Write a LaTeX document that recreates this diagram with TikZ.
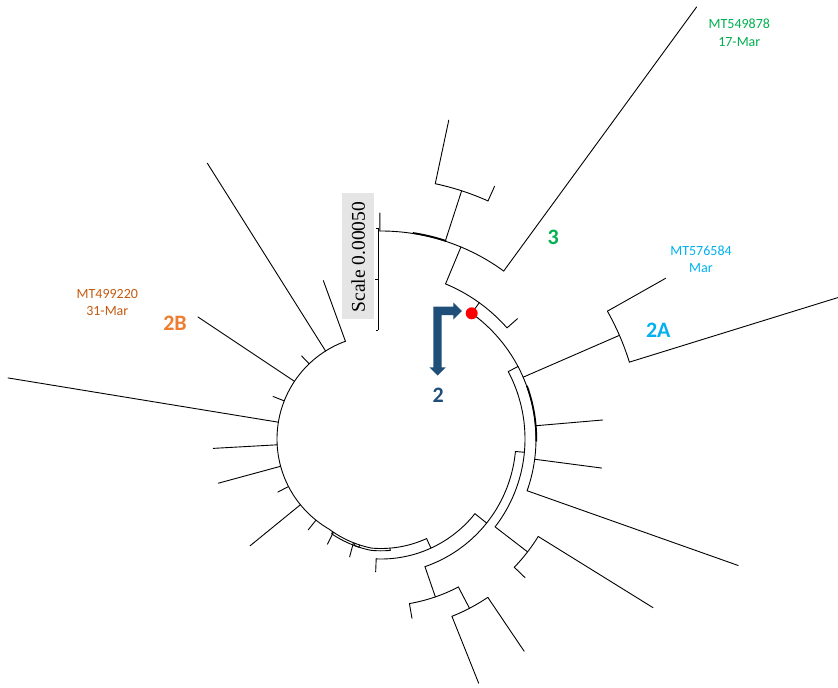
\documentclass[tikz,border=0pt]{standalone}
\usepackage{fontspec}
\setmainfont{Carlito}
\newfontfamily\scalefnt{Liberation Serif}
\definecolor{cgreen}{RGB}{0,176,80}
\definecolor{ccyan}{RGB}{0,176,240}
\definecolor{cbrown}{RGB}{197,90,17}
\definecolor{corange}{RGB}{237,125,49}
\definecolor{cnavy}{RGB}{31,78,121}
\pgfmathdeclarefunction{bbR}{1}{\pgfmathparse{104+5.5*min(max((#1-240)/25,0),1)}}
\tikzset{
  treeline/.style={line width=0.9pt, black, line cap=round},
  thickline/.style={line width=1.7pt, black},
  lab/.style={font=\fontsize{14}{16}\selectfont, inner sep=0pt},
  biglab/.style={font=\fontsize{22}{24}\selectfont\bfseries, inner sep=0pt}
}
% radial segment: angle, r1, r2
\newcommand{\trad}[3]{\draw[treeline] ({381+(#2)*cos(#1)},{439-(#2)*sin(#1)}) -- ({381+(#3)*cos(#1)},{439-(#3)*sin(#1)});}
% arc: radius, a1, a2
\newcommand{\tarc}[3]{\draw[treeline] plot[domain=#2:#3,samples=60,variable=\t] ({381+(#1)*cos(\t)},{439-(#1)*sin(\t)});}
% tip from backbone: angle, r2
\newcommand{\bbtip}[2]{\draw[treeline] ({381+bbR(#1)*cos(#1)},{439-bbR(#1)*sin(#1)}) -- ({381+(#2)*cos(#1)},{439-(#2)*sin(#1)});}
\begin{document}
\begin{tikzpicture}[x=1pt,y=-1pt]
\useasboundingbox (0,0) rectangle (838,688);

% ---- scale box ----
\fill[black!10] (342.3,192.7) rectangle (374,319.3);
\node[rotate=90, font=\scalefnt\fontsize{19.5}{21}\selectfont, inner sep=0pt] (scalelab) at (358.2,257) {Scale 0.00050};
\draw[line width=0.7pt] (378.3,228.3) -- (378.3,330);
\draw[line width=0.7pt] (375.6,228.3) -- (378.3,228.3);
\draw[line width=0.7pt] (375.0,279.3) -- (378.3,279.3);
\draw[line width=0.7pt] (375.6,330) -- (378.3,330);

% ---- backbone ----
\draw[treeline] plot[domain=110:294.6,samples=150,variable=\t] ({381+bbR(\t)*cos(\t)},{439-bbR(\t)*sin(\t)});
% double segments
\draw[treeline] plot[domain=242.5:258.5,samples=20,variable=\t] ({381+(bbR(\t)+2.3)*cos(\t)},{439-(bbR(\t)+2.3)*sin(\t)});
\trad{242.5}{bbR(242.5)}{bbR(242.5)+2.3}
\trad{258.5}{bbR(258.5)}{bbR(258.5)+2.3}
\draw[treeline] plot[domain=256:274.7,samples=20,variable=\t] ({381+(bbR(\t)+2.3)*cos(\t)},{439-(bbR(\t)+2.3)*sin(\t)});
\trad{256}{bbR(256)}{bbR(256)+2.3}
\trad{274.7}{bbR(274.7)}{bbR(274.7)+2.3}

\bbtip{110}{168.5}
\bbtip{122.2}{326}
\bbtip{133.7}{115}
\bbtip{146.3}{220}
\bbtip{158.5}{116}
\bbtip{170.7}{378}
\bbtip{183.2}{168}
\bbtip{195.2}{168.5}
\bbtip{207.2}{116}
\bbtip{219.2}{169}
\bbtip{231.3}{116.5}
\bbtip{243}{118}
\bbtip{255.1}{122}
\bbtip{294.6}{120}

% ---- r=120 ----
\tarc{120}{267.7}{321.5}
\trad{267.7}{120}{133}
\trad{321.5}{120}{135}
% ---- r=135 ----
\tarc{135}{289}{354.7}
\trad{289}{135}{167}
\trad{354.7}{135}{144}
% ---- r=144 ----
\tarc{144}{-37.6}{27.9}
\trad{-37.6}{144}{185}
\trad{27.9}{144}{155}
% ---- r=155 ----
\tarc{155}{-19.5}{54.2}
\draw[thickline] plot[domain=-1:20,samples=30,variable=\t] ({381+155.3*cos(\t)},{439-155.3*sin(\t)});
\trad{54.2}{155}{168}
\trad{23.5}{155}{260}
\trad{4.9}{155}{222.5}
\trad{-7.5}{155}{222.6}
\trad{-19.5}{155}{379}
% ---- clade 3 ----
\tarc{168}{41.4}{67.4}
\trad{41.4}{168}{182}
\trad{67.4}{168}{208}
\tarc{208}{53.85}{90.3}
\draw[thickline] plot[domain=71.8:81.2,samples=20,variable=\t] ({381+208.5*cos(\t)},{439-208.5*sin(\t)});
\trad{90.3}{208}{226}
\trad{72}{208}{261}
\trad{53.85}{208}{535}
\tarc{261}{65.8}{78}
\trad{78}{261}{326}
\trad{65.8}{261}{277}
% ---- clade 2A ----
\tarc{260}{17.2}{29.45}
\trad{29.45}{260}{327}
\trad{17.2}{260}{478}
% ---- lower right ----
\tarc{185}{-43.9}{-31.8}
\trad{-31.8}{185}{320}
\trad{-43.9}{185}{200}
% ---- bottom ----
\tarc{167}{-80.2}{-62.4}
\trad{-80.2}{167}{182}
\trad{-62.4}{167}{191}
\tarc{191}{-68.2}{-56}
\trad{-68.2}{191}{263}
\trad{-56}{191}{256}

% ---- red dot ----
\node[circle, fill=red, inner sep=0pt, minimum size=12pt] (reddot) at (471.7,313.3) {};

% ---- arrow ----
\fill[cnavy] (433.3,306.7) -- (453.3,306.7) -- (453.3,302.5) -- (462,311) -- (453.3,319.5) -- (453.3,315) -- (441.7,315) -- (441.7,367.3) -- (445.7,367.3) -- (437.5,375.5) -- (429.3,367.3) -- (433.3,367.3) -- cycle;

% ---- labels ----
\node[lab, text=cgreen] (t549a) at (739.3,24) {MT549878};
\node[lab, text=cgreen] (t549b) at (739.3,42.3) {17-Mar};
\node[lab, text=ccyan] (t576a) at (701,250.7) {MT576584};
\node[lab, text=ccyan] (t576b) at (701,268.3) {Mar};
\node[lab, text=cbrown] (t499a) at (107.3,294) {MT499220};
\node[lab, text=cbrown] (t499b) at (107.3,311) {31-Mar};
\node[biglab, text=corange] (l2B) at (175,323.3) {2B};
\node[biglab, text=ccyan] (l2A) at (658.3,330) {2A};
\node[biglab, text=cgreen] (l3) at (553.3,237.3) {3};
\node[biglab, text=cnavy] (l2) at (438.3,395) {2};
\end{tikzpicture}
\end{document}
